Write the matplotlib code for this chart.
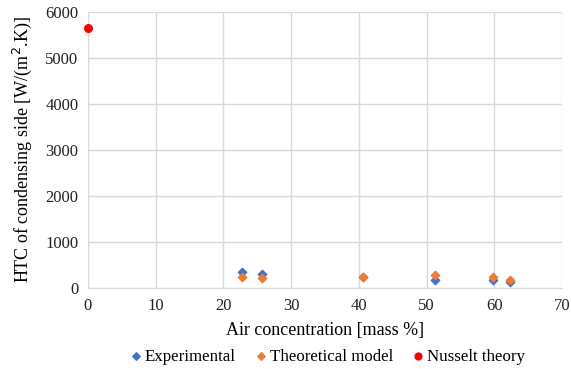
import matplotlib.pyplot as plt

plt.rcParams['font.family'] = ['Liberation Serif', 'DejaVu Serif']

# datos
exp_x = [22.7, 25.7, 40.6, 51.2, 59.8, 62.3]
exp_y = [355, 295, 235, 175, 165, 135]
teo_x = [22.7, 25.7, 40.6, 51.2, 59.8, 62.3]
teo_y = [230, 210, 245, 275, 240, 170]
nus_x = [0]
nus_y = [5650]

fig = plt.figure(figsize=(5.71, 3.69), dpi=100)
ax = fig.add_axes([88/571, 1-288/369, 474/571, 276/369])

ax.scatter(exp_x, exp_y, marker='D', s=18, color='#4472C4', label='Experimental', zorder=3)
ax.scatter(teo_x, teo_y, marker='D', s=18, color='#ED7D31', label='Theoretical model', zorder=3)
ax.scatter(nus_x, nus_y, marker='o', s=30, color='#FF0000', label='Nusselt theory', zorder=4, clip_on=False)

ax.set_xlim(0, 70)
ax.set_ylim(0, 6000)
ax.set_xticks(range(0, 71, 10))
ax.set_yticks(range(0, 6001, 1000))
ax.grid(color='#D9D9D9', linewidth=1)
ax.set_axisbelow(True)
for s in ax.spines.values():
    s.set_visible(False)
ax.spines['left'].set_visible(True)
ax.spines['bottom'].set_visible(True)
ax.spines['left'].set_color('#D9D9D9')
ax.spines['bottom'].set_color('#D9D9D9')
ax.tick_params(length=0, labelsize=12, colors='#222222', pad=7)

ax.set_xlabel('Air concentration [mass %]', fontsize=13, labelpad=6)
ax.set_ylabel('HTC of condensing side [W/(m$^2$.K)]', fontsize=13, labelpad=8)

fig.legend(loc='lower center', bbox_to_anchor=(0.573, -0.03), ncol=3, frameon=False,
           fontsize=12.2, handletextpad=0.1, handlelength=0.8, columnspacing=1.1,
           markerscale=0.9)

plt.savefig('out.png', dpi=100)
